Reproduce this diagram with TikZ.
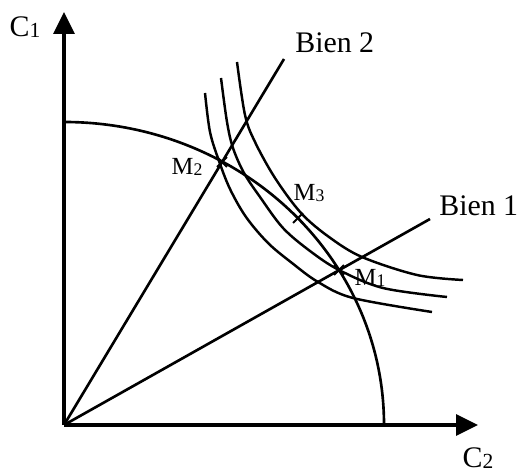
\documentclass[tikz,border=0pt]{standalone}
\usepackage{fontspec}
\setmainfont{Liberation Serif}
\usetikzlibrary{arrows.meta,shapes.misc}
\newcommand{\lowdigit}[1]{\raisebox{-0.6pt}{\scalebox{0.72}{#1}}}
\tikzset{
  axis line/.style={line width=1.8pt,-{Triangle[length=4.4mm,width=4.2mm]}},
  ray line/.style={line width=1.5pt},
  curve line/.style={line width=1.4pt},
  axis label/.style={font=\fontsize{17}{20}\selectfont,inner sep=0pt},
  ray label/.style={font=\fontsize{17}{20}\selectfont,inner sep=0pt,anchor=west},
  point label/.style={font=\fontsize{14}{16}\selectfont,inner sep=0pt},
  cross point/.style={cross out,draw,line width=1.1pt,minimum size=4.5pt,inner sep=0pt}
}
\begin{document}
\begin{tikzpicture}[x=0.02cm,y=0.02cm]
\useasboundingbox (-64,-47) rectangle (455,425);
\coordinate (O) at (0,0);
\coordinate (ytip) at (0,413);
\coordinate (xtip) at (414,0);
\coordinate (ftop) at (0,303);
\coordinate (b2end) at (220,366);
\coordinate (b1end) at (366,206);
% axes
\draw[axis line] (O) -- (ytip);
\draw[axis line] (O) -- (xtip);
\node[axis label] (c1) at (-39,398) {C\lowdigit{1}};
\node[axis label] (c2) at (414,-33) {C\lowdigit{2}};
% frontier and rays
\draw[ray line] (ftop) arc[start angle=90,end angle=0,x radius=320,y radius=303];
\draw[ray line] (O) -- (b2end);
\draw[ray line] (O) -- (b1end);
\node[ray label] (bien2) at (231,382) {Bien 2};
\node[ray label] (bien1) at (375,219) {Bien 1};
% indifference curves
\draw[curve line] plot[smooth,tension=0.55] coordinates {(141,332) (146,293) (155,264) (166,236) (182,208) (204,182) (228,162) (254,143) (289,127) (368,113)};
\draw[curve line] plot[smooth,tension=0.55] coordinates {(157,347) (163,303) (169,277) (180,252) (196,228) (219,197) (246,174) (275,155) (319,137) (383,128)};
\draw[curve line] plot[smooth,tension=0.55] coordinates {(173,363) (181,310) (191,283) (211,247) (237,212) (265,188) (298,168) (353,150) (399,145)};
% points
\node[cross point] (m2) at (158,263) {};
\node[cross point] (m3) at (234,207) {};
\node[cross point] (m1) at (275,155) {};
\node[point label] (m2lbl) at (123,258) {M\lowdigit{2}};
\node[point label] (m3lbl) at (245,232) {M\lowdigit{3}};
\node[point label] (m1lbl) at (306,147) {M\lowdigit{1}};
\end{tikzpicture}
\end{document}
